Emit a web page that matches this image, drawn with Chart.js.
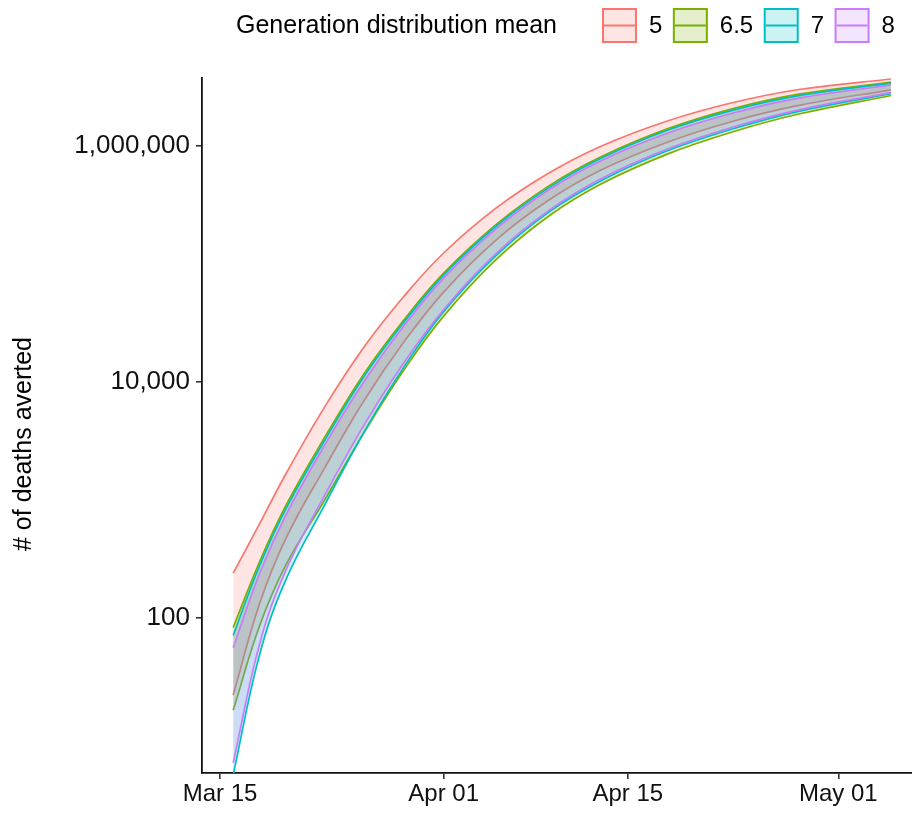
<!DOCTYPE html>
<html>
<head>
<meta charset="utf-8">
<script src="https://cdn.jsdelivr.net/npm/chart.js@4.4.1/dist/chart.umd.min.js"></script>
<style>
  html, body { margin: 0; padding: 0; background: #fff; }
  canvas { display: block; }
</style>
</head>
<body>
<canvas id="chart" width="912" height="814"></canvas>
<script>
// Days counted from Mar 15 (day 0).
const DAYS = [1, 3, 5, 8, 11, 14, 17, 21, 25, 29, 34, 39, 44, 51];

const RED_UPPER = [240, 626, 1660, 6266, 20180, 53580, 123900, 298500, 590200, 1000000, 1629000, 2336000, 3013000, 3698000];
const RED_LOWER = [22.2, 131.6, 470, 1910, 7096, 21980, 57810, 160000, 348100, 628700, 1077000, 1622000, 2208000, 2995000];
const GREEN_UPPER = [83, 298, 893, 3459, 11970, 33810, 83560, 216300, 459200, 813000, 1396000, 2075000, 2748000, 3479000];
const GREEN_LOWER = [16.5, 85.3, 280, 1018, 3802, 12740, 36160, 109200, 255200, 478300, 853700, 1322000, 1867000, 2680000];
const CYAN_UPPER = [71, 276, 839, 3266, 11380, 32360, 80540, 209900, 443800, 789600, 1359000, 2015000, 2673000, 3412000];
const CYAN_LOWER = [4.67, 48.5, 210, 925, 3855, 13490, 39450, 118300, 275400, 511000, 910300, 1399000, 1968000, 2780000];
const PURPLE_UPPER = [56, 237, 741, 2972, 10280, 30200, 75860, 199500, 425500, 755100, 1284000, 1905000, 2547000, 3290000];
const PURPLE_LOWER = [5.9, 59.6, 253, 1119, 4416, 14720, 40930, 123300, 284500, 530300, 941800, 1449000, 2027000, 2835000];

const GROUP_LABELS = ["5", "6.5", "7", "8"];
const GROUP_COLORS = ["#F8766D", "#7CAE00", "#00BFC4", "#C77CFF"];
const UPPERS = [RED_UPPER, GREEN_UPPER, CYAN_UPPER, PURPLE_UPPER];
const LOWERS = [RED_LOWER, GREEN_LOWER, CYAN_LOWER, PURPLE_LOWER];

const X_TICK_DAYS = [0, 17, 31, 47];
const X_TICK_LABELS = ["Mar 15", "Apr 01", "Apr 15", "May 01"];
const Y_TICKS = [100, 10000, 1000000];

const FONT = '"Liberation Sans", Arial, sans-serif';
Chart.defaults.font.family = FONT;

function rgba(hex, a) {
  const n = parseInt(hex.slice(1), 16);
  return `rgba(${(n >> 16) & 255},${(n >> 8) & 255},${n & 255},${a})`;
}

const toPoints = (vals) => vals.map((v, i) => ({ x: DAYS[i], y: v }));

// one ribbon per group: upper line fills down to the lower line.
// ggplot draws groups in order, so later groups sit on top.
const datasets = [];
GROUP_LABELS.forEach((lab, g) => {
  const col = GROUP_COLORS[g];
  const common = {
    borderColor: col, borderWidth: 1.7, pointRadius: 0, tension: 0.4,
  };
  datasets.push({ ...common, label: lab + " upper", data: toPoints(UPPERS[g]),
                  fill: "+1", backgroundColor: rgba(col, 0.2), order: 8 - 2 * g - 1 });
  datasets.push({ ...common, label: lab + " lower", data: toPoints(LOWERS[g]),
                  fill: false, order: 8 - 2 * g });
});

const legendAndTitle = {
  id: "legendAndTitle",
  afterDraw(chart) {
    const ctx = chart.ctx;
    ctx.save();
    ctx.fillStyle = "#000";
    ctx.font = `25px ${FONT}`;
    ctx.textBaseline = "middle";
    ctx.textAlign = "left";
    ctx.fillText("Generation distribution mean", 236, 26);

    ctx.font = `24px ${FONT}`;
    let x = 603;
    GROUP_LABELS.forEach((lab, g) => {
      const col = GROUP_COLORS[g];
      ctx.fillStyle = rgba(col, 0.2);
      ctx.fillRect(x, 9, 33, 33);
      ctx.strokeStyle = col;
      ctx.lineWidth = 2;
      ctx.strokeRect(x, 9, 33, 33);
      ctx.beginPath();
      ctx.moveTo(x + 1, 25.5);
      ctx.lineTo(x + 32, 25.5);
      ctx.stroke();
      ctx.fillStyle = "#000";
      ctx.fillText(lab, x + 46, 26);
      x += 46 + ctx.measureText(lab).width + 11.5;
    });

    // y axis title
    ctx.font = `25px ${FONT}`;
    ctx.translate(24, 444);
    ctx.rotate(-Math.PI / 2);
    ctx.textAlign = "center";
    ctx.fillText("# of deaths averted", 0, 0);
    ctx.restore();
  },
};

new Chart(document.getElementById("chart"), {
  type: "line",
  data: { datasets },
  plugins: [legendAndTitle],
  options: {
    responsive: false,
    animation: false,
    layout: { padding: { top: 78, right: 0, left: 0, bottom: 0 } },
    plugins: { legend: { display: false }, tooltip: { enabled: false } },
    scales: {
      x: {
        type: "linear",
        min: -1.37,
        max: 52.6,
        afterFit: (s) => { s.height = 41; },
        afterBuildTicks: (s) => { s.ticks = X_TICK_DAYS.map((v) => ({ value: v })); },
        ticks: {
          autoSkip: false, maxRotation: 0, padding: 1,
          color: "#111", font: { size: 24 },
          callback: (v) => X_TICK_LABELS[X_TICK_DAYS.indexOf(v)] ?? "",
        },
        grid: { display: true, drawOnChartArea: false, drawTicks: true,
                tickLength: 6, color: "#333", lineWidth: 1.6 },
        border: { display: true, color: "#111", width: 1.8 },
      },
      y: {
        type: "logarithmic",
        min: 4.85,
        max: 3770000,
        afterFit: (s) => { s.width = 202; },
        afterBuildTicks: (s) => { s.ticks = Y_TICKS.map((v) => ({ value: v })); },
        ticks: {
          padding: 6, color: "#111", font: { size: 26 },
          callback: (v) => Number(v).toLocaleString("en-US"),
        },
        grid: { display: true, drawOnChartArea: false, drawTicks: true,
                tickLength: 6, color: "#333", lineWidth: 1.6 },
        border: { display: true, color: "#111", width: 1.8 },
      },
    },
  },
});
</script>
</body>
</html>
